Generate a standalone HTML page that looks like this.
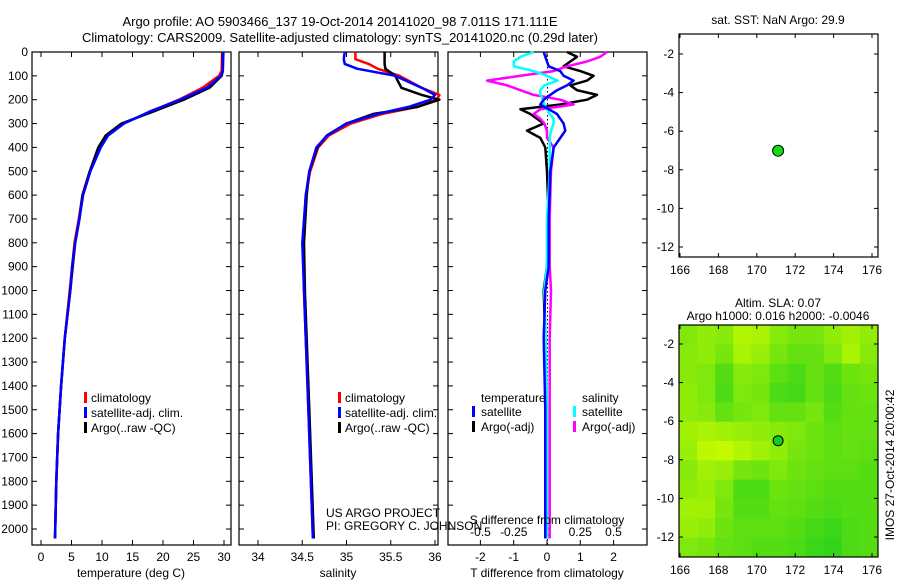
<!DOCTYPE html>
<html><head><meta charset="utf-8">
<style>
body{margin:0;background:#fff;}
svg text{font-family:"Liberation Sans",sans-serif;font-size:12px;fill:#000;}
</style></head>
<body>
<svg id="c" width="900" height="580" xmlns="http://www.w3.org/2000/svg">
<text x="340" y="26" text-anchor="middle" style="font-size:13px">Argo profile: AO 5903466_137 19-Oct-2014 20141020_98 7.011S 171.111E</text>
<text x="340" y="42" text-anchor="middle" style="font-size:13px">Climatology: CARS2009. Satellite-adjusted climatology: synTS_20141020.nc (0.29d later)</text>
<g id="g"></g>
</svg>
<script>
// ---- data ----
const depthT=[0,80,100,150,200,250,300,350,400,500,600,700,800,900,1000,1200,1400,1600,1800,2040];
const tempClim=[29.7,29.6,29.2,26.5,22.6,18,13.5,10.8,9.6,8,6.8,6.2,5.5,5.1,4.7,3.9,3.3,2.8,2.5,2.3];
const tempSat=[29.9,29.8,29.5,27.2,22.8,17.8,13.6,11,9.8,8.1,6.9,6.3,5.6,5.1,4.8,3.9,3.3,2.8,2.5,2.3];
const tempArgo=[29.8,29.8,29.6,27.6,23.4,18.4,13.2,10.6,9.4,8,6.8,6.3,5.6,5.2,4.8,3.9,3.3,2.8,2.5,2.3];
const depthS=[0,30,50,70,100,150,180,200,230,260,300,350,400,500,600,800,1000,1500,2040];
const salClim=[35.1,35.1,35.25,35.35,35.6,35.85,36.05,36.02,35.8,35.4,35.05,34.8,34.68,34.59,34.54,34.51,34.52,34.57,34.62];
const salSat=[34.98,34.97,34.98,35.12,35.55,35.85,36.0,35.95,35.7,35.35,35.0,34.78,34.66,34.58,34.54,34.5,34.52,34.57,34.62];
const salArgo=[35.43,35.43,35.43,35.44,35.55,35.62,35.85,36.05,35.8,35.3,35.0,34.78,34.67,34.58,34.55,34.52,34.53,34.58,34.63];
const depthD=[0,20,40,60,80,100,120,140,160,180,200,220,240,260,280,300,330,360,400,500,700,900,1000,1200,1500,2040];
const dTsat=[-0.1,-0.05,0,0.05,0.4,0.5,0.8,0.6,0.3,0.1,-0.1,-0.2,0.05,0.3,0.4,0.5,0.55,0.4,0.2,0.1,0.05,0.05,-0.05,-0.1,-0.05,-0.05];
const dTargo=[0.6,0.9,0.7,0.5,1.0,1.4,1.2,0.7,0.9,1.5,1.2,0.4,-0.8,-0.5,-0.3,-0.1,-0.6,-0.2,-0.05,0.0,0.05,0.0,-0.1,-0.05,-0.05,-0.05];
const dSsat=[-0.1,-0.2,-0.25,-0.25,-0.1,0,0.08,-0.02,-0.05,-0.05,-0.03,-0.02,0.0,0.02,0.05,0.05,0.03,0.02,0.02,0.02,0.0,0.0,-0.02,-0.01,0.0,0.0];
const dSargo=[0.45,0.4,0.3,0.15,0.05,-0.2,-0.45,-0.3,-0.2,-0.1,0.1,0.2,-0.05,-0.1,-0.05,-0.02,0.0,0.0,0.05,0.03,0.02,0.02,0.03,0.02,0.02,0.02];
const depthTicks=[0,100,200,300,400,500,600,700,800,900,1000,1100,1200,1300,1400,1500,1600,1700,1800,1900,2000];
const tempTicks=[0,5,10,15,20,25,30];
const salTicks=[34,34.5,35,35.5,36];
const dTTicks=[-2,-1,0,1,2];
const dSTicks=[-0.5,-0.25,0,0.25,0.5];
const dSLabels=["-0.5","-0.25","0","0.25","0.5"];
const lonTicks=[166,168,170,172,174,176];
const latTicks=[-2,-4,-6,-8,-10,-12];
// SLA heatmap values (0=yellow-green, 1=deep green), rows north->south, 11 cols
const slaGrid=[
[0.4,0.3,0.35,0.1,0.15,0.35,0.45,0.45,0.3,0.2,0.3],
[0.35,0.3,0.45,0.15,0.25,0.45,0.55,0.55,0.4,0.15,0.35],
[0.35,0.4,0.65,0.35,0.4,0.6,0.7,0.55,0.65,0.5,0.45],
[0.3,0.4,0.7,0.4,0.45,0.7,0.75,0.55,0.7,0.55,0.5],
[0.3,0.35,0.55,0.45,0.4,0.55,0.55,0.45,0.65,0.55,0.55],
[0.2,0.15,0.2,0.25,0.3,0.35,0.4,0.5,0.6,0.55,0.55],
[0.25,0.05,0.0,0.1,0.2,0.3,0.45,0.5,0.6,0.55,0.6],
[0.35,0.2,0.25,0.45,0.5,0.4,0.5,0.55,0.6,0.6,0.65],
[0.3,0.25,0.4,0.7,0.7,0.5,0.55,0.6,0.65,0.65,0.65],
[0.2,0.2,0.45,0.65,0.65,0.55,0.6,0.65,0.7,0.65,0.65],
[0.25,0.3,0.5,0.6,0.6,0.6,0.65,0.75,0.8,0.7,0.65],
[0.4,0.45,0.55,0.6,0.65,0.65,0.7,0.8,0.85,0.7,0.65]
];
const argoLon=171.11, argoLat=-7.01;

const NS="http://www.w3.org/2000/svg", G=document.getElementById('g');
function el(t,a,p){const e=document.createElementNS(NS,t);for(const k in a)e.setAttribute(k,a[k]);(p||G).appendChild(e);return e;}
function txt(x,y,s,anchor,name,extra){const e=el('text',Object.assign({x:x,y:y,'text-anchor':anchor||'start'},extra||{}));e.textContent=s;


return e;}
const yD=d=>52+d*0.2385;
function frame(x0,x1,y0,y1,name){const r=el('rect',{x:x0,y:y0,width:x1-x0,height:y1-y0,fill:'none',stroke:'#000','stroke-width':1.2});

}
function line(xs,ys,xf,color,name,w){const pts=xs.map((v,i)=>xf(v).toFixed(1)+','+yD(ys[i]).toFixed(1)).join(' ');
const p=el('polyline',{points:pts,fill:'none',stroke:color,'stroke-width':w||2.5,'stroke-linejoin':'round'});

}
function xticks(vals,xf,y0,y1,labels,ly){vals.forEach((v,i)=>{el('line',{x1:xf(v),x2:xf(v),y1:y1,y2:y1-5,stroke:'#000'});el('line',{x1:xf(v),x2:xf(v),y1:y0,y2:y0+5,stroke:'#000'});
if(labels)txt(xf(v),ly,labels[i],'middle','x-tick-label');});}
function ytick(x0,x1){depthTicks.forEach(d=>{el('line',{x1:x0,x2:x0+5,y1:yD(d),y2:yD(d),stroke:'#000'});el('line',{x1:x1,x2:x1-5,y1:yD(d),y2:yD(d),stroke:'#000'});});}
const B=545;
depthTicks.forEach(d=>txt(28,yD(d)+4,String(d),'end','y-tick-label'));
// panel 1
const xT=t=>41+t*6.1;
frame(32,231,52,B,'temperature-panel');ytick(32,231);
xticks(tempTicks,xT,52,B,tempTicks.map(String),561);
line(tempClim,depthT,xT,'#f00','climatology-temp-line');
line(tempArgo,depthT,xT,'#000','argo-temp-line');
line(tempSat,depthT,xT,'#00f','satellite-temp-line');
txt(131,577,'temperature (deg C)','middle','x-axis-title-temperature');
function legend3(x,y,name){[['#f00','climatology'],['#00f','satellite-adj. clim.'],['#000','Argo(..raw -QC)']].forEach((c,i)=>{
const r=el('rect',{x:x,y:y+i*15-10,width:3,height:11,fill:c[0]});
txt(x+7,y+i*15,c[1],'start',name+'-entry');});}
legend3(84,402,'temp-legend');
// panel 2
const xS=s=>258+(s-34)*88.5;
frame(239,438,52,B,'salinity-panel');ytick(239,438);
xticks(salTicks,xS,52,B,salTicks.map(String),561);
line(salClim,depthS,xS,'#f00','climatology-sal-line');
line(salArgo,depthS,xS,'#000','argo-sal-line');
line(salSat,depthS,xS,'#00f','satellite-sal-line');
txt(338,577,'salinity','middle','x-axis-title-salinity');
legend3(338,402,'sal-legend');
txt(326,517,'US ARGO PROJECT','start','project-label');
txt(326,530,'PI: GREGORY C. JOHNSON','start','pi-label');
// panel 3
const xDT=v=>547+v*33.3, xDS=v=>547+v*133;
frame(448,647,52,B,'difference-panel');ytick(448,647);
xticks(dTTicks,xDT,52,B,dTTicks.map(String),561);
dSTicks.forEach((v,i)=>txt(xDS(v),536,dSLabels[i],'middle','s-diff-tick-label'));
for(let y=55;y<B;y+=4)el('rect',{x:547,y:y,width:1,height:1.5,fill:'#000'});
line(dTargo,depthD,xDT,'#000','argo-temp-diff-line');
line(dSargo,depthD,xDS,'#f0f','argo-sal-diff-line');
line(dSsat,depthD,xDS,'#0ff','satellite-sal-diff-line');
line(dTsat,depthD,xDT,'#00f','satellite-temp-diff-line');
txt(547,524,'S difference from climatology','middle','s-diff-axis-title');
txt(547,577,'T difference from climatology','middle','x-axis-title-t-diff');
txt(481,402,'temperature','start','t-legend-heading');txt(582,402,'salinity','start','s-legend-heading');
[['#00f','satellite',472,416],['#000','Argo(-adj)',472,431],['#0ff','satellite',573,416],['#f0f','Argo(-adj)',573,431]].forEach(c=>{
const r=el('rect',{x:c[2],y:c[3]-10,width:3,height:11,fill:c[0]});
txt(c[2]+9,c[3],c[1],'start','diff-legend-entry');});
// maps
function map(top,bot,yLat,title1,title2,heat){
const xL=l=>680+(l-166)*19.2, yL=y=>yLat(y);
if(heat){const rows=slaGrid.length,cols=slaGrid[0].length,cw=(878-679)/cols,ch=(bot-top)/rows;
const gr=el('g',{});
slaGrid.forEach((row,r)=>row.forEach((v,c)=>{const R=Math.round(195-v*170),Gc=Math.round(250-v*45),Bc=Math.round(v*30);
const e=el('rect',{x:679+c*cw,y:top+r*ch,width:cw+0.5,height:ch+0.5,fill:`rgb(${R},${Gc},${Bc})`},gr);

}));}
frame(679,878,top,bot,heat?'sla-map':'sst-map');
lonTicks.forEach(l=>{el('line',{x1:xL(l),x2:xL(l),y1:top,y2:top+4,stroke:'#000'});el('line',{x1:xL(l),x2:xL(l),y1:bot,y2:bot-4,stroke:'#000'});txt(xL(l),bot+17,String(l),'middle','lon-tick-label');});
latTicks.forEach(l=>{el('line',{x1:679,x2:683,y1:yL(l),y2:yL(l),stroke:'#000'});el('line',{x1:878,x2:874,y1:yL(l),y2:yL(l),stroke:'#000'});txt(674,yL(l)+4,String(l),'end','lat-tick-label');});
const c=el('circle',{cx:xL(argoLon),cy:yL(argoLat),r:heat?5:5.5,fill:heat?'#1c2':'#1d1',stroke:'#000','stroke-width':1});


txt(778,title2?top-18:top-10,title1,'middle','map-title');
if(title2)txt(778,top-5,title2,'middle','map-subtitle');}
map(34,257,y=>54+(-2-y)*19.3,'sat. SST: NaN Argo: 29.9',null,false);
map(325,557,y=>344+(-2-y)*19.3,'Altim. SLA: 0.07','Argo h1000: 0.016 h2000: -0.0046',true);
txt(0,0,'IMOS 27-Oct-2014 20:00:42','middle','imos-timestamp',{transform:'translate(894,465) rotate(-90)'});
</script>
</body></html>
